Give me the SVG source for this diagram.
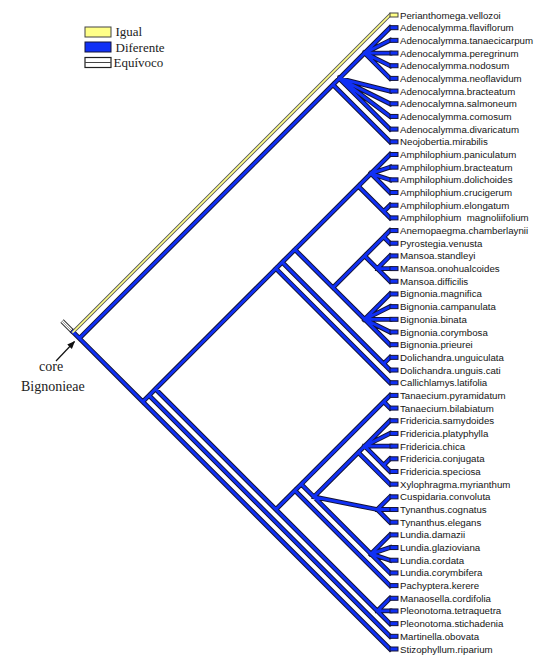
<svg xmlns="http://www.w3.org/2000/svg" xmlns:xlink="http://www.w3.org/1999/xlink" width="542" height="655" viewBox="0 0 542 655">
<style>
.lbl{font-family:"Liberation Sans",Arial,sans-serif;font-size:9.7px;fill:#151515}
.leg{font-family:"Liberation Serif","Times New Roman",serif;font-size:13px;fill:#222}
.ann{font-family:"Liberation Serif","Times New Roman",serif;font-size:14px;fill:#222}
.bo{fill:none;stroke:#141438;stroke-width:4.8;stroke-linecap:square}
.bf{fill:none;stroke:#1030f5;stroke-width:2.8;stroke-linecap:square}
.yo{fill:none;stroke:#555;stroke-width:3.4;stroke-linecap:square}
.yf{fill:none;stroke:#ffff88;stroke-width:1.6;stroke-linecap:square}
.eo{fill:none;stroke:#333;stroke-width:4.6}
.ef{fill:none;stroke:#fff;stroke-width:2.6}
.em{fill:none;stroke:#888;stroke-width:0.8}
.box{fill:#1030f5;stroke:#141438;stroke-width:1}
.ybox{fill:#ffff88;stroke:#444;stroke-width:1}
</style>
<defs>
<path id="blue" d="M73 332L79.34 338.34M79.34 338.34L332.94 84.74M79.34 338.34L142.74 401.74
M332.94 84.74L339.28 78.4M332.94 84.74L390 141.8
M339.28 78.4L364.64 53.04M339.28 78.4L390 91.08M339.28 78.4L390 103.76M339.28 78.4L390 116.44M339.28 78.4L390 129.12
M364.64 53.04L390 27.68M364.64 53.04L390 40.36M364.64 53.04L390 53.04M364.64 53.04L390 65.72M364.64 53.04L390 78.4
M142.74 401.74L149.08 395.4M142.74 401.74L390 649
M149.08 395.4L155.42 389.06M149.08 395.4L390 636.32
M155.42 389.06L275.88 268.6M155.42 389.06L275.88 509.52
M275.88 268.6L282.22 262.26M275.88 268.6L390 382.72
M282.22 262.26L294.9 249.58M282.22 262.26L383.66 363.7
M294.9 249.58L358.3 186.18M294.9 249.58L332.94 287.62
M358.3 186.18L370.98 173.5M358.3 186.18L383.66 211.54
M370.98 173.5L390 154.48M370.98 173.5L390 167.16M370.98 173.5L390 179.84M370.98 173.5L390 192.52
M383.66 211.54L390 205.2M383.66 211.54L390 217.88
M332.94 287.62L364.64 255.92M332.94 287.62L364.64 319.32
M364.64 255.92L383.66 236.9M364.64 255.92L377.32 268.6
M383.66 236.9L390 230.56M383.66 236.9L390 243.24
M377.32 268.6L390 255.92M377.32 268.6L390 268.6M377.32 268.6L390 281.28
M364.64 319.32L390 293.96M364.64 319.32L390 306.64M364.64 319.32L390 319.32M364.64 319.32L390 332M364.64 319.32L390 344.68
M383.66 363.7L390 357.36M383.66 363.7L390 370.04
M275.88 509.52L294.9 490.5M275.88 509.52L377.32 610.96
M294.9 490.5L301.24 484.16M294.9 490.5L390 585.6
M301.24 484.16L383.66 401.74M301.24 484.16L313.92 496.84
M383.66 401.74L390 395.4M383.66 401.74L390 408.08
M313.92 496.84L358.3 452.46M313.92 496.84L377.32 509.52M313.92 496.84L370.98 553.9
M358.3 452.46L364.64 446.12M358.3 452.46L390 484.16
M364.64 446.12L390 420.76M364.64 446.12L390 433.44M364.64 446.12L390 446.12M364.64 446.12L383.66 465.14
M383.66 465.14L390 458.8M383.66 465.14L390 471.48
M377.32 509.52L390 496.84M377.32 509.52L390 509.52M377.32 509.52L390 522.2
M370.98 553.9L390 534.88M370.98 553.9L390 547.56M370.98 553.9L390 560.24M370.98 553.9L390 572.92
M377.32 610.96L390 598.28M377.32 610.96L390 610.96M377.32 610.96L390 623.64"/>
<path id="yel" d="M73 332L390 15"/>
<path id="equ" d="M62 321L73 332"/>
<marker id="arr" viewBox="0 0 10 10" refX="9" refY="5" markerWidth="8" markerHeight="8" orient="auto" markerUnits="userSpaceOnUse">
<path d="M0 1L10 5L0 9z" fill="#111"/>
</marker>
</defs>
<g id="legend">
<rect x="85" y="27" width="26" height="10" class="ybox"/>
<text x="115.5" y="36" class="leg">Igual</text>
<rect x="85" y="42" width="26" height="10" class="box"/>
<text x="115.5" y="51.5" class="leg">Diferente</text>
<rect x="85" y="57.5" width="26" height="10" fill="#fff" stroke="#222" stroke-width="1.2"/>
<line x1="85" y1="62.5" x2="111" y2="62.5" stroke="#444" stroke-width="1"/>
<text x="113.5" y="66.5" class="leg">Equívoco</text>
</g>
<g id="connectors">
<use xlink:href="#equ" class="eo"/>
<use xlink:href="#equ" class="ef"/>
<use xlink:href="#equ" class="em"/>
<use xlink:href="#blue" class="bo"/>
<use xlink:href="#yel" class="yo"/>
<use xlink:href="#blue" class="bf"/>
<use xlink:href="#yel" class="yf"/>
</g>
<g id="annotation">
<line x1="56" y1="361" x2="74.5" y2="341.5" stroke="#111" stroke-width="1.2" marker-end="url(#arr)"/>
<text x="39" y="371" class="ann">core</text>
<text x="21" y="391" class="ann">Bignonieae</text>
</g>
<g id="n1"><rect x="390" y="13" width="8" height="4" class="ybox"/><text x="400" y="18.5" class="lbl">Perianthomega.vellozoi</text></g>
<g id="n2"><rect x="390" y="25.68" width="8" height="4" class="box"/><text x="400" y="31.18" class="lbl">Adenocalymma.flaviflorum</text></g>
<g id="n3"><rect x="390" y="38.36" width="8" height="4" class="box"/><text x="400" y="43.86" class="lbl">Adenocalymma.tanaecicarpum</text></g>
<g id="n4"><rect x="390" y="51.04" width="8" height="4" class="box"/><text x="400" y="56.54" class="lbl">Adenocalymma.peregrinum</text></g>
<g id="n5"><rect x="390" y="63.72" width="8" height="4" class="box"/><text x="400" y="69.22" class="lbl">Adenocalymma.nodosum</text></g>
<g id="n6"><rect x="390" y="76.4" width="8" height="4" class="box"/><text x="400" y="81.9" class="lbl">Adenocalymma.neoflavidum</text></g>
<g id="n7"><rect x="390" y="89.08" width="8" height="4" class="box"/><text x="400" y="94.58" class="lbl">Adenocalymna.bracteatum</text></g>
<g id="n8"><rect x="390" y="101.76" width="8" height="4" class="box"/><text x="400" y="107.26" class="lbl">Adenocalymna.salmoneum</text></g>
<g id="n9"><rect x="390" y="114.44" width="8" height="4" class="box"/><text x="400" y="119.94" class="lbl">Adenocalymma.comosum</text></g>
<g id="n10"><rect x="390" y="127.12" width="8" height="4" class="box"/><text x="400" y="132.62" class="lbl">Adenocalymma.divaricatum</text></g>
<g id="n11"><rect x="390" y="139.8" width="8" height="4" class="box"/><text x="400" y="145.3" class="lbl">Neojobertia.mirabilis</text></g>
<g id="n12"><rect x="390" y="152.48" width="8" height="4" class="box"/><text x="400" y="157.98" class="lbl">Amphilophium.paniculatum</text></g>
<g id="n13"><rect x="390" y="165.16" width="8" height="4" class="box"/><text x="400" y="170.66" class="lbl">Amphilophium.bracteatum</text></g>
<g id="n14"><rect x="390" y="177.84" width="8" height="4" class="box"/><text x="400" y="183.34" class="lbl">Amphilophium.dolichoides</text></g>
<g id="n15"><rect x="390" y="190.52" width="8" height="4" class="box"/><text x="400" y="196.02" class="lbl">Amphilophium.crucigerum</text></g>
<g id="n16"><rect x="390" y="203.2" width="8" height="4" class="box"/><text x="400" y="208.7" class="lbl">Amphilophium.elongatum</text></g>
<g id="n17"><rect x="390" y="215.88" width="8" height="4" class="box"/><text x="400" y="221.38" class="lbl" xml:space="preserve">Amphilophium  magnoliifolium</text></g>
<g id="n18"><rect x="390" y="228.56" width="8" height="4" class="box"/><text x="400" y="234.06" class="lbl">Anemopaegma.chamberlaynii</text></g>
<g id="n19"><rect x="390" y="241.24" width="8" height="4" class="box"/><text x="400" y="246.74" class="lbl">Pyrostegia.venusta</text></g>
<g id="n20"><rect x="390" y="253.92" width="8" height="4" class="box"/><text x="400" y="259.42" class="lbl">Mansoa.standleyi</text></g>
<g id="n21"><rect x="390" y="266.6" width="8" height="4" class="box"/><text x="400" y="272.1" class="lbl">Mansoa.onohualcoides</text></g>
<g id="n22"><rect x="390" y="279.28" width="8" height="4" class="box"/><text x="400" y="284.78" class="lbl">Mansoa.difficilis</text></g>
<g id="n23"><rect x="390" y="291.96" width="8" height="4" class="box"/><text x="400" y="297.46" class="lbl">Bignonia.magnifica</text></g>
<g id="n24"><rect x="390" y="304.64" width="8" height="4" class="box"/><text x="400" y="310.14" class="lbl">Bignonia.campanulata</text></g>
<g id="n25"><rect x="390" y="317.32" width="8" height="4" class="box"/><text x="400" y="322.82" class="lbl">Bignonia.binata</text></g>
<g id="n26"><rect x="390" y="330" width="8" height="4" class="box"/><text x="400" y="335.5" class="lbl">Bignonia.corymbosa</text></g>
<g id="n27"><rect x="390" y="342.68" width="8" height="4" class="box"/><text x="400" y="348.18" class="lbl">Bignonia.prieurei</text></g>
<g id="n28"><rect x="390" y="355.36" width="8" height="4" class="box"/><text x="400" y="360.86" class="lbl">Dolichandra.unguiculata</text></g>
<g id="n29"><rect x="390" y="368.04" width="8" height="4" class="box"/><text x="400" y="373.54" class="lbl">Dolichandra.unguis.cati</text></g>
<g id="n30"><rect x="390" y="380.72" width="8" height="4" class="box"/><text x="400" y="386.22" class="lbl">Callichlamys.latifolia</text></g>
<g id="n31"><rect x="390" y="393.4" width="8" height="4" class="box"/><text x="400" y="398.9" class="lbl">Tanaecium.pyramidatum</text></g>
<g id="n32"><rect x="390" y="406.08" width="8" height="4" class="box"/><text x="400" y="411.58" class="lbl">Tanaecium.bilabiatum</text></g>
<g id="n33"><rect x="390" y="418.76" width="8" height="4" class="box"/><text x="400" y="424.26" class="lbl">Fridericia.samydoides</text></g>
<g id="n34"><rect x="390" y="431.44" width="8" height="4" class="box"/><text x="400" y="436.94" class="lbl">Fridericia.platyphylla</text></g>
<g id="n35"><rect x="390" y="444.12" width="8" height="4" class="box"/><text x="400" y="449.62" class="lbl">Fridericia.chica</text></g>
<g id="n36"><rect x="390" y="456.8" width="8" height="4" class="box"/><text x="400" y="462.3" class="lbl">Fridericia.conjugata</text></g>
<g id="n37"><rect x="390" y="469.48" width="8" height="4" class="box"/><text x="400" y="474.98" class="lbl">Fridericia.speciosa</text></g>
<g id="n38"><rect x="390" y="482.16" width="8" height="4" class="box"/><text x="400" y="487.66" class="lbl">Xylophragma.myrianthum</text></g>
<g id="n39"><rect x="390" y="494.84" width="8" height="4" class="box"/><text x="400" y="500.34" class="lbl">Cuspidaria.convoluta</text></g>
<g id="n40"><rect x="390" y="507.52" width="8" height="4" class="box"/><text x="400" y="513.02" class="lbl">Tynanthus.cognatus</text></g>
<g id="n41"><rect x="390" y="520.2" width="8" height="4" class="box"/><text x="400" y="525.7" class="lbl">Tynanthus.elegans</text></g>
<g id="n42"><rect x="390" y="532.88" width="8" height="4" class="box"/><text x="400" y="538.38" class="lbl">Lundia.damazii</text></g>
<g id="n43"><rect x="390" y="545.56" width="8" height="4" class="box"/><text x="400" y="551.06" class="lbl">Lundia.glazioviana</text></g>
<g id="n44"><rect x="390" y="558.24" width="8" height="4" class="box"/><text x="400" y="563.74" class="lbl">Lundia.cordata</text></g>
<g id="n45"><rect x="390" y="570.92" width="8" height="4" class="box"/><text x="400" y="576.42" class="lbl">Lundia.corymbifera</text></g>
<g id="n46"><rect x="390" y="583.6" width="8" height="4" class="box"/><text x="400" y="589.1" class="lbl">Pachyptera.kerere</text></g>
<g id="n47"><rect x="390" y="596.28" width="8" height="4" class="box"/><text x="400" y="601.78" class="lbl">Manaosella.cordifolia</text></g>
<g id="n48"><rect x="390" y="608.96" width="8" height="4" class="box"/><text x="400" y="614.46" class="lbl">Pleonotoma.tetraquetra</text></g>
<g id="n49"><rect x="390" y="621.64" width="8" height="4" class="box"/><text x="400" y="627.14" class="lbl">Pleonotoma.stichadenia</text></g>
<g id="n50"><rect x="390" y="634.32" width="8" height="4" class="box"/><text x="400" y="639.82" class="lbl">Martinella.obovata</text></g>
<g id="n51"><rect x="390" y="647" width="8" height="4" class="box"/><text x="400" y="652.5" class="lbl">Stizophyllum.riparium</text></g>
</svg>
